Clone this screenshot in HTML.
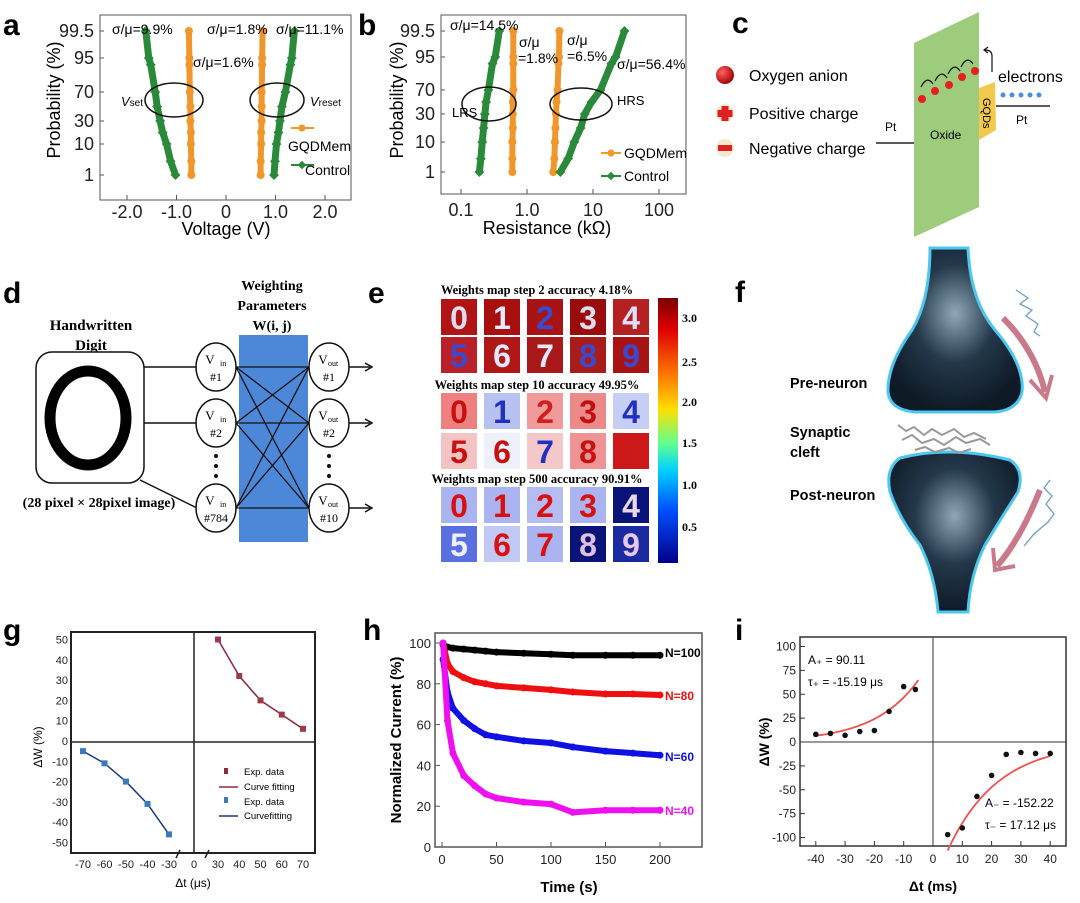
<!DOCTYPE html>
<html><head><meta charset="utf-8">
<style>
html,body{margin:0;padding:0;background:#fff;}
svg{display:block;font-family:"Liberation Sans",sans-serif;}
.ser{font-family:"Liberation Serif",serif;font-weight:bold;}
</style></head>
<body>
<svg id="fig" width="1080" height="903" viewBox="0 0 1080 903" xmlns="http://www.w3.org/2000/svg">
<defs>
<linearGradient id="jet" x1="0" y1="0" x2="0" y2="1">
<stop offset="0" stop-color="#7a0000"/><stop offset="0.12" stop-color="#e00000"/><stop offset="0.3" stop-color="#ff8000"/><stop offset="0.42" stop-color="#ffe000"/><stop offset="0.55" stop-color="#60ff90"/><stop offset="0.65" stop-color="#00d0ff"/><stop offset="0.8" stop-color="#0050ff"/><stop offset="1" stop-color="#00008a"/>
</linearGradient>
<radialGradient id="neur" cx="0.5" cy="0.4" r="0.6"><stop offset="0" stop-color="#8fa8b8"/><stop offset="0.5" stop-color="#23384a"/><stop offset="1" stop-color="#0e1a26"/></radialGradient>
<radialGradient id="ball" cx="0.35" cy="0.35" r="0.7"><stop offset="0" stop-color="#ff6060"/><stop offset="1" stop-color="#a00000"/></radialGradient>
</defs>

<!-- Panel a -->
<g>
<text x="3" y="35" font-size="30" font-weight="bold">a</text>
<rect x="100" y="15" width="251" height="185" fill="none" stroke="#555" stroke-width="1"/>
<g id="aTicks" font-size="18" fill="#222"></g>
<text transform="translate(60,100) rotate(-90)" text-anchor="middle" font-size="18">Probability (%)</text>
<text x="226" y="235" text-anchor="middle" font-size="18">Voltage (V)</text>
<g id="aMarks"></g>
<ellipse cx="174" cy="100" rx="29" ry="17" fill="none" stroke="#111" stroke-width="1.5"/>
<ellipse cx="277" cy="100" rx="27" ry="17" fill="none" stroke="#111" stroke-width="1.5"/>
<text x="121" y="106" font-size="13" font-style="italic">V<tspan font-size="10" font-style="normal">set</tspan></text>
<text x="310" y="106" font-size="13" font-style="italic">V<tspan font-size="10" font-style="normal">reset</tspan></text>
<text x="112" y="34" font-size="14">σ/μ=9.9%</text>
<text x="207" y="34" font-size="14">σ/μ=1.8%</text>
<text x="276" y="34" font-size="14">σ/μ=11.1%</text>
<text x="193" y="67" font-size="14">σ/μ=1.6%</text>
<g>
<line x1="291" y1="128" x2="314" y2="128" stroke="#f0962a" stroke-width="2"/><circle cx="302" cy="128" r="3.5" fill="#f0962a"/>
<text x="288" y="151" font-size="14">GQDMem</text>
<line x1="291" y1="165" x2="314" y2="165" stroke="#2a8a3a" stroke-width="2"/><rect x="299" y="162" width="6" height="6" fill="#2a8a3a" transform="rotate(45 302 165)"/>
<text x="305" y="175" font-size="14">Control</text>
</g>
</g>

<!-- Panel b -->
<g>
<text x="358" y="35" font-size="30" font-weight="bold">b</text>
<rect x="441" y="15" width="245" height="179" fill="none" stroke="#555" stroke-width="1"/>
<g id="bTicks" font-size="18" fill="#222"></g>
<text transform="translate(403,100) rotate(-90)" text-anchor="middle" font-size="18">Probability (%)</text>
<text x="547" y="234" text-anchor="middle" font-size="18">Resistance (kΩ)</text>
<g id="bMarks"></g>
<ellipse cx="489" cy="104" rx="27" ry="17" fill="none" stroke="#111" stroke-width="1.5"/>
<ellipse cx="581" cy="104" rx="31" ry="16" fill="none" stroke="#111" stroke-width="1.5"/>
<text x="452" y="117" font-size="13">LRS</text>
<text x="617" y="105" font-size="13">HRS</text>
<text x="450" y="30" font-size="14">σ/μ=14.5%</text>
<text x="519" y="47" font-size="14"><tspan x="519">σ/μ</tspan><tspan x="518" dy="16">=1.8%</tspan></text>
<text x="567" y="45" font-size="14"><tspan x="567">σ/μ</tspan><tspan x="567" dy="16">=6.5%</tspan></text>
<text x="617" y="69" font-size="14">σ/μ=56.4%</text>
<g>
<line x1="601" y1="153" x2="621" y2="153" stroke="#f0962a" stroke-width="2"/><circle cx="611" cy="153" r="3.5" fill="#f0962a"/>
<text x="624" y="158" font-size="14">GQDMem</text>
<line x1="601" y1="176" x2="621" y2="176" stroke="#2a8a3a" stroke-width="2"/><rect x="608" y="173" width="6" height="6" fill="#2a8a3a" transform="rotate(45 611 176)"/>
<text x="624" y="181" font-size="14">Control</text>
</g>
</g>

<!-- Panel c -->
<g>
<text x="732" y="33" font-size="30" font-weight="bold">c</text>
<circle cx="725" cy="75" r="9" fill="url(#ball)"/>
<text x="749" y="81" font-size="16">Oxygen anion</text>
<circle cx="725" cy="113" r="9" fill="#f5ead0"/>
<path d="M721.5 106h7v4h4v7h-4v4h-7v-4h-4v-7h4z" fill="#e02020"/>
<text x="749" y="119" font-size="16">Positive charge</text>
<circle cx="725" cy="148" r="9" fill="#f5ead0"/>
<rect x="718" y="145" width="14" height="6" fill="#e02020"/>
<text x="749" y="154" font-size="16">Negative charge</text>
<polygon points="914,43 979,12 979,207 914,237" fill="#9ccc7c"/>
<polygon points="979,88 995,82 996,130 979,140" fill="#f2c94c"/>
<text transform="translate(983,98) rotate(90)" font-size="11">GQDs</text>
<line x1="876" y1="143" x2="914" y2="143" stroke="#222" stroke-width="1.5"/>
<line x1="996" y1="106" x2="1050" y2="106" stroke="#222" stroke-width="1.5"/>
<text x="885" y="131" font-size="12">Pt</text>
<text x="1016" y="124" font-size="12">Pt</text>
<text x="930" y="139" font-size="12">Oxide</text>
<g fill="#e52020">
<circle cx="922" cy="99" r="4"/><circle cx="935" cy="91" r="4"/><circle cx="949" cy="85" r="4"/><circle cx="962" cy="77" r="4"/><circle cx="975" cy="71" r="4"/>
</g>
<g fill="none" stroke="#111" stroke-width="1.2">
<path d="M933 84 Q927 75 921 87"/><path d="M947 78 Q941 69 935 81"/><path d="M960 71 Q954 62 948 74"/><path d="M973 64 Q967 55 961 67"/>
<path d="M992 72 L992 56 Q992 50 985 50"/><path d="M988 47 L984 50 L988 53"/>
</g>
<g fill="#4a8fe0">
<circle cx="1003" cy="95" r="2.5"/><circle cx="1012" cy="95" r="2.5"/><circle cx="1021" cy="95" r="2.5"/><circle cx="1030" cy="95" r="2.5"/><circle cx="1039" cy="95" r="2.5"/>
</g>
<text x="998" y="82" font-size="16">electrons</text>
</g>

<!-- Panel d -->
<g>
<text x="3" y="303" font-size="30" font-weight="bold">d</text>
<text x="91" y="330" text-anchor="middle" font-size="15" class="ser">Handwritten</text>
<text x="91" y="350" text-anchor="middle" font-size="15" class="ser">Digit</text>
<rect x="36" y="352" width="108" height="131" rx="16" fill="#fff" stroke="#111" stroke-width="1.5"/>
<ellipse cx="88" cy="418" rx="38" ry="47" fill="none" stroke="#000" stroke-width="11"/>
<text x="99" y="507" text-anchor="middle" font-size="14" class="ser">(28 pixel × 28pixel image)</text>
<text x="272" y="290" text-anchor="middle" font-size="14" class="ser">Weighting</text>
<text x="272" y="310" text-anchor="middle" font-size="14" class="ser">Parameters</text>
<text x="272" y="330" text-anchor="middle" font-size="14" class="ser">W(i, j)</text>
<rect x="239" y="335" width="69" height="207" fill="#4d88d8"/>
<g id="dNet"></g>
</g>

<!-- Panel e -->
<g>
<text x="368" y="303" font-size="30" font-weight="bold">e</text>
<text x="537" y="294" text-anchor="middle" font-size="12.5" class="ser">Weights map step 2 accuracy 4.18%</text>
<text x="537" y="389" text-anchor="middle" font-size="12.5" class="ser">Weights map step 10 accuracy 49.95%</text>
<text x="537" y="483" text-anchor="middle" font-size="12.5" class="ser">Weights map step 500 accuracy 90.91%</text>
<g id="eTiles"></g>
<rect x="658" y="298" width="20" height="265" fill="url(#jet)"/>
<g font-size="12" class="ser">
<text x="682" y="322">3.0</text><text x="682" y="366">2.5</text><text x="682" y="406">2.0</text><text x="682" y="447">1.5</text><text x="682" y="489">1.0</text><text x="682" y="531">0.5</text>
</g>
</g>

<!-- Panel f -->
<g>
<text x="735" y="302" font-size="30" font-weight="bold">f</text>
<path d="M930 248 L968 248 Q970 300 995 330 Q1025 365 1022 392 Q1018 410 995 412 L915 412 Q890 410 888 392 Q887 365 912 330 Q930 300 930 248Z" fill="url(#neur)" stroke="#4cc8f0" stroke-width="3"/>
<path d="M900 458 Q950 445 1010 460 Q1025 470 1018 492 Q1000 520 985 545 Q970 575 968 612 L938 612 Q935 575 920 545 Q900 520 890 492 Q885 468 900 458Z" fill="url(#neur)" stroke="#4cc8f0" stroke-width="3"/>
<g fill="none" stroke="#999" stroke-width="2">
<path d="M898 425 l8 6 l8 -4 l10 8 l8 -6 l10 6 l12 -6 l10 8 l10 -4 l12 6"/>
<path d="M902 440 l10 -5 l10 8 l12 -4 l10 6 l12 -8 l10 6 l14 -4 l10 6"/>
<path d="M915 450 l10 -3 l10 5 l14 -4 l10 5 l12 -4"/>
</g>
<path d="M1003 318 Q1035 350 1045 392" fill="none" stroke="#c87a8a" stroke-width="6"/>
<path d="M1030 380 L1046 398 L1052 375" fill="none" stroke="#c87a8a" stroke-width="4"/>
<path d="M1040 490 Q1020 540 997 566" fill="none" stroke="#c87a8a" stroke-width="6"/>
<path d="M993 548 L995 570 L1015 566" fill="none" stroke="#c87a8a" stroke-width="4"/>
<path d="M1016 290 l12 8 l-8 6 l12 6 l-6 6 l12 8 l-4 8 l6 4" fill="none" stroke="#6a9ec8" stroke-width="1.3"/>
<path d="M1050 480 l-6 8 l8 8 l-6 8 l8 10 l-6 8 l-14 12 l-10 12" fill="none" stroke="#6a9ec8" stroke-width="1.3"/>
<text x="790" y="388" font-size="14.5" font-weight="bold">Pre-neuron</text>
<text x="790" y="437" font-size="14.5" font-weight="bold">Synaptic</text>
<text x="790" y="457" font-size="14.5" font-weight="bold">cleft</text>
<text x="790" y="500" font-size="14.5" font-weight="bold">Post-neuron</text>
</g>

<!-- Panel g -->
<g>
<text x="3" y="640" font-size="30" font-weight="bold">g</text>
<rect x="71" y="632" width="244" height="221" fill="none" stroke="#222" stroke-width="2"/>
<line x1="194" y1="632" x2="194" y2="853" stroke="#222" stroke-width="1.5"/>
<line x1="71" y1="742" x2="315" y2="742" stroke="#222" stroke-width="1.5"/>
<g id="gTicks" font-size="11" fill="#222"></g>
<g id="gMarks"></g>
<text x="193" y="887" text-anchor="middle" font-size="12">Δt (μs)</text>
<text transform="translate(42,747) rotate(-90)" text-anchor="middle" font-size="12">ΔW (%)</text>
<g font-size="9.5">
<rect x="224" y="768" width="4" height="6" fill="#8a2a3a"/><text x="244" y="775">Exp. data</text>
<line x1="219" y1="787" x2="238" y2="787" stroke="#8a2a3a" stroke-width="1.5"/><text x="244" y="790">Curve fitting</text>
<rect x="224" y="797" width="4" height="6" fill="#3a7ab8"/><text x="244" y="805">Exp. data</text>
<line x1="219" y1="816" x2="238" y2="816" stroke="#1a3a7a" stroke-width="1.5"/><text x="244" y="819">Curvefitting</text>
</g>
</g>

<!-- Panel h -->
<g>
<text x="363" y="640" font-size="30" font-weight="bold">h</text>
<rect x="435" y="633" width="267" height="214" fill="none" stroke="#555" stroke-width="1.5"/>
<g id="hTicks" font-size="13" fill="#222"></g>
<g id="hMarks"></g>
<text x="569" y="892" text-anchor="middle" font-size="15" font-weight="bold">Time (s)</text>
<text transform="translate(401,740) rotate(-90)" text-anchor="middle" font-size="15" font-weight="bold">Normalized Current (%)</text>
</g>

<!-- Panel i -->
<g>
<text x="735" y="640" font-size="30" font-weight="bold">i</text>
<rect x="800" y="637" width="266" height="209" fill="none" stroke="#333" stroke-width="1.5"/>
<line x1="933" y1="637" x2="933" y2="846" stroke="#333" stroke-width="1"/>
<line x1="800" y1="742" x2="1066" y2="742" stroke="#333" stroke-width="1"/>
<g id="iTicks" font-size="12" fill="#222"></g>
<g id="iMarks"></g>
<text x="933" y="891" text-anchor="middle" font-size="14" font-weight="bold">Δt (ms)</text>
<text transform="translate(769,742) rotate(-90)" text-anchor="middle" font-size="14" font-weight="bold">ΔW (%)</text>
<text x="808" y="664" font-size="12">A₊ = 90.11</text>
<text x="808" y="686" font-size="12">τ₊ = -15.19 μs</text>
<text x="985" y="807" font-size="12">A₋ = -152.22</text>
<text x="985" y="829" font-size="12">τ₋ = 17.12 μs</text>
</g>
</svg>

<script>
// ===== Panel a data =====
const probTicks = [1, 10, 30, 70, 95, 99.5];
const aProbs = [1, 5, 10, 20, 30, 50, 70, 90, 95, 99.5];
const aSetControl = [-1.02, -1.12, -1.2, -1.28, -1.33, -1.39, -1.43, -1.52, -1.56, -1.62];
const aSetGqd = [-0.7, -0.7, -0.71, -0.71, -0.72, -0.72, -0.73, -0.74, -0.74, -0.75];
const aResetGqd = [0.7, 0.7, 0.71, 0.71, 0.72, 0.72, 0.72, 0.73, 0.73, 0.74];
const aResetControl = [0.97, 0.99, 1.02, 1.06, 1.09, 1.13, 1.2, 1.3, 1.33, 1.38];
const aXTicks = [-2.0, -1.0, 0, 1.0, 2.0];
const aXLabels = ["-2.0", "-1.0", "0", "1.0", "2.0"];
// ===== Panel b data =====
const bProbs = [1, 5, 10, 20, 30, 50, 70, 90, 95, 99.5];
const bLrsControl = [0.19, 0.2, 0.21, 0.22, 0.23, 0.24, 0.26, 0.3, 0.33, 0.38];
const bLrsGqd = [0.6, 0.6, 0.6, 0.61, 0.61, 0.61, 0.62, 0.62, 0.62, 0.62];
const bHrsGqd = [2.5, 2.6, 2.65, 2.7, 2.75, 2.8, 2.9, 3.0, 3.05, 3.1];
const bHrsControl = [3.2, 4.2, 5.2, 6.5, 7.5, 9.5, 13, 19, 22, 30];
const bXTicks = [0.1, 1, 10, 100];
const bXLabels = ["0.1", "1.0", "10", "100"];
// ===== Panel g data =====
const gPosT = [30, 40, 50, 60, 70];
const gPosW = [50, 32, 20, 13, 6];
const gNegT = [-70, -60, -50, -40, -30];
const gNegW = [-5, -11, -20, -31, -46];
const gYTicks = [50, 40, 30, 20, 10, 0, -10, -20, -30, -40, -50];
const gXTicks = [-70, -60, -50, -40, -30, 0, 30, 40, 50, 60, 70];
// ===== Panel h data =====
const hTimes = [1, 5, 10, 20, 30, 40, 50, 75, 100, 120, 150, 175, 200];
const hN100 = [99, 98, 97.5, 97, 96.5, 96, 95.5, 95, 94.5, 94, 94, 94, 94];
const hN80 = [100, 90, 86, 83, 81, 80, 79, 78, 77, 76, 75, 75, 74.5];
const hN60 = [92, 76, 68, 62, 58, 55, 54, 52, 51, 49, 47, 46, 45];
const hN40 = [100, 62, 46, 35, 30, 26, 24, 22, 21, 17, 18, 18, 18];
const hXTicks = [0, 50, 100, 150, 200];
const hYTicks = [0, 20, 40, 60, 80, 100];
const hSeriesNames = ["N=100", "N=80", "N=60", "N=40"];
// ===== Panel i data =====
const iNegT = [-40, -35, -30, -25, -20, -15, -10, -6];
const iNegW = [8, 9, 7, 11, 12, 32, 58, 55];
const iPosT = [5, 10, 15, 20, 25, 30, 35, 40];
const iPosW = [-97, -90, -57, -35, -13, -11, -12, -12];
const iFitPlus = [90.11, -15.19];
const iFitMinus = [-152.22, 17.12];
const iXTicks = [-40, -30, -20, -10, 0, 10, 20, 30, 40];
const iYTicks = [100, 75, 50, 25, 0, -25, -50, -75, -100];

const NS = "http://www.w3.org/2000/svg";
function mk(parent, tag, attrs, txt) {
  const el = document.createElementNS(NS, tag);
  for (const k in attrs) el.setAttribute(k, attrs[k]);
  if (txt !== undefined) el.textContent = txt;
  parent.appendChild(el);
  return el;
}
function $(id) { return document.getElementById(id); }

// probability axis (piecewise between tick positions)
function probAxis(pos) {
  return function (p) {
    for (let i = 0; i < probTicks.length - 1; i++) {
      if (p <= probTicks[i + 1]) {
        const f = (p - probTicks[i]) / (probTicks[i + 1] - probTicks[i]);
        return pos[i] + f * (pos[i + 1] - pos[i]);
      }
    }
    return pos[pos.length - 1];
  };
}
const yA = probAxis([175, 144, 121, 92, 58, 31]);
const yB = probAxis([172, 142, 114, 90, 57, 31]);
const xA = v => 226 + v * 49.5;
const xB = r => 527 + 66 * Math.log10(r);

function probTickLabels(g, yf, xr, xl) {
  probTicks.forEach(p => {
    const y = yf(p);
    const l = mk(g, "line", { x1: xl, y1: y, x2: xl + 4, y2: y, stroke: "#555" });
    
    
    const t = mk(g, "text", { x: xr, y: y + 6, "text-anchor": "end" }, String(p));
    
    
  });
}
function drawProbSeries(g, xs, ps, xf, yf, color, diamond, name) {
  const pts = xs.map((v, i) => xf(v) + "," + yf(ps[i])).join(" ");
  const pl = mk(g, "polyline", { points: pts, fill: "none", stroke: color, "stroke-width": diamond ? 7 : 6, "stroke-linejoin": "round", "stroke-linecap": "round" });
  
  
  xs.forEach((v, i) => {
    const cx = xf(v), cy = yf(ps[i]);
    let m;
    if (diamond) m = mk(g, "rect", { x: cx - 3.5, y: cy - 3.5, width: 7, height: 7, fill: color, transform: "rotate(45 " + cx + " " + cy + ")" });
    else m = mk(g, "circle", { cx: cx, cy: cy, r: 4, fill: color });
    
    
  });
}
const ORANGE = "#f0962a", GREEN = "#2a8a3a";

// Panel a
(function () {
  const gt = $("aTicks");
  probTickLabels(gt, yA, 94, 100);
  aXTicks.forEach((v, i) => {
    const x = xA(v);
    const l = mk(gt, "line", { x1: x, y1: 200, x2: x, y2: 195, stroke: "#555" });
    
    
    const t = mk(gt, "text", { x: x, y: 218, "text-anchor": "middle" }, aXLabels[i]);
    
    
  });
  const g = $("aMarks");
  drawProbSeries(g, aSetGqd, aProbs, xA, yA, ORANGE, false, "series-set-gqdmem");
  drawProbSeries(g, aResetGqd, aProbs, xA, yA, ORANGE, false, "series-reset-gqdmem");
  drawProbSeries(g, aSetControl, aProbs, xA, yA, GREEN, true, "series-set-control");
  drawProbSeries(g, aResetControl, aProbs, xA, yA, GREEN, true, "series-reset-control");
})();

// Panel b
(function () {
  const gt = $("bTicks");
  probTickLabels(gt, yB, 435, 441);
  bXTicks.forEach((v, i) => {
    const x = xB(v);
    const l = mk(gt, "line", { x1: x, y1: 194, x2: x, y2: 189, stroke: "#555" });
    
    
    const t = mk(gt, "text", { x: x, y: 216, "text-anchor": "middle" }, bXLabels[i]);
    
    
  });
  const g = $("bMarks");
  drawProbSeries(g, bLrsGqd, bProbs, xB, yB, ORANGE, false, "series-lrs-gqdmem");
  drawProbSeries(g, bHrsGqd, bProbs, xB, yB, ORANGE, false, "series-hrs-gqdmem");
  drawProbSeries(g, bLrsControl, bProbs, xB, yB, GREEN, true, "series-lrs-control");
  drawProbSeries(g, bHrsControl, bProbs, xB, yB, GREEN, true, "series-hrs-control");
})();

// Panel d network
(function () {
  const g = $("dNet");
  const ys = [367, 423, 508];
  const inLab = ["#1", "#2", "#784"], outLab = ["#1", "#2", "#10"];
  mk(g, "line", { x1: 144, y1: 367, x2: 196, y2: 367, stroke: "#111", "stroke-width": 1.5 });
  mk(g, "line", { x1: 144, y1: 423, x2: 196, y2: 423, stroke: "#111", "stroke-width": 1.5 });
  mk(g, "line", { x1: 140, y1: 480, x2: 197, y2: 508, stroke: "#111", "stroke-width": 1.5 });
  ys.forEach(a => ys.forEach(b => {
    mk(g, "line", { x1: 236, y1: a, x2: 309, y2: b, stroke: "#111", "stroke-width": 1.3 });
  }));
  ys.forEach((y, i) => {
    const n1 = mk(g, "ellipse", { cx: 216, cy: y, rx: 20, ry: 24, fill: "#fff", stroke: "#111", "stroke-width": 1.5 });
    
    
    mk(g, "text", { x: 210, y: y - 3, "font-size": 13, "text-anchor": "middle", "font-family": "Liberation Serif" }, "V");
    mk(g, "text", { x: 220, y: y - 1, "font-size": 8, "font-family": "Liberation Serif" }, "in");
    mk(g, "text", { x: 216, y: y + 14, "font-size": 12, "text-anchor": "middle", "font-family": "Liberation Serif" }, inLab[i]);
    const n2 = mk(g, "ellipse", { cx: 329, cy: y, rx: 20, ry: 24, fill: "#fff", stroke: "#111", "stroke-width": 1.5 });
    
    
    mk(g, "text", { x: 323, y: y - 3, "font-size": 13, "text-anchor": "middle", "font-family": "Liberation Serif" }, "V");
    mk(g, "text", { x: 328, y: y - 1, "font-size": 8, "font-family": "Liberation Serif" }, "out");
    mk(g, "text", { x: 329, y: y + 14, "font-size": 12, "text-anchor": "middle", "font-family": "Liberation Serif" }, outLab[i]);
    mk(g, "line", { x1: 349, y1: y, x2: 370, y2: y, stroke: "#111", "stroke-width": 1.5 });
    mk(g, "path", { d: "M365 " + (y - 4) + " L372 " + y + " L365 " + (y + 4), fill: "none", stroke: "#111", "stroke-width": 1.5 });
  });
  [456, 466, 476].forEach(y => { mk(g, "circle", { cx: 216, cy: y, r: 2, fill: "#111" }); mk(g, "circle", { cx: 329, cy: y, r: 2, fill: "#111" }); });
})();

// Panel e tiles
(function () {
  const g = $("eTiles");
  const rowsY = [299, 337, 393, 433, 487, 526];
  const bgs = [
    ["#b01414", "#a81010", "#a81414", "#9a0c0c", "#b52020"],
    ["#b8202a", "#b01818", "#a81818", "#a81c1c", "#a81414"],
    ["#ee8080", "#b8c2f0", "#f09a9a", "#ec8a8a", "#c6cef4"],
    ["#f4c4c4", "#eef0fa", "#f4c8c8", "#ee9494", "#cc1818"],
    ["#aab4f0", "#aab4f0", "#b4bcf2", "#aab4f0", "#0a1478"],
    ["#5a70e0", "#c0c8f4", "#aab4f0", "#0a1478", "#1a2aa0"]];
  const fg = [
    ["#dde", "#e8e8ff", "#3a4ad0", "#dde", "#e0e0ff"],
    ["#3a4ad0", "#e8e8ff", "#e8e8ff", "#3a4ad0", "#3a4ad0"],
    ["#c81010", "#2030c0", "#d02020", "#c01010", "#2030c0"],
    ["#c81010", "#c81010", "#2030c0", "#c81010", "#cc1818"],
    ["#d81010", "#d81010", "#d81010", "#d81010", "#e8d8e8"],
    ["#eeeeff", "#d81010", "#d81010", "#e0c0e0", "#e8c8e8"]];
  const digits = ["0", "1", "2", "3", "4", "5", "6", "7", "8", "9"];
  rowsY.forEach((y, r) => {
    for (let c = 0; c < 5; c++) {
      const x = 441 + c * 43;
      const t = mk(g, "rect", { x: x, y: y, width: 36, height: 36, fill: bgs[r][c] });
      
      
      mk(g, "text", { x: x + 18, y: y + 30, "font-size": 32, "font-weight": "bold", "text-anchor": "middle", fill: fg[r][c], "font-family": "Liberation Sans" }, digits[(r % 2) * 5 + c]);
    }
  });
})();

// Panel g
(function () {
  const xG = t => t < 0 ? 169 + (t + 30) * 2.15 : 218 + (t - 30) * 2.125;
  const yG = v => 741 - v * 2.03;
  const gt = $("gTicks");
  gYTicks.forEach(v => {
    const t = mk(gt, "text", { x: 68, y: yG(v) + 4, "text-anchor": "end" }, String(v));
    
    
  });
  gXTicks.forEach(v => {
    const t = mk(gt, "text", { x: v === 0 ? 194 : xG(v), y: 868, "text-anchor": "middle" }, String(v));
    
    
  });
  mk(gt, "path", { d: "M176 858 l4 -8 M205 858 l4 -8", stroke: "#222", "stroke-width": 1.5 });
  const g = $("gMarks");
  function ser(ts, ws, line, mark, name) {
    const pl = mk(g, "polyline", { points: ts.map((t, i) => xG(t) + "," + yG(ws[i])).join(" "), fill: "none", stroke: line, "stroke-width": 1.5 });
    
    
    ts.forEach((t, i) => {
      const m = mk(g, "rect", { x: xG(t) - 3, y: yG(ws[i]) - 3, width: 6, height: 6, fill: mark });
      
      
    });
  }
  ser(gPosT, gPosW, "#8a2a3a", "#9a3a4a", "series-positive");
  ser(gNegT, gNegW, "#1a3a7a", "#3a7ab8", "series-negative");
})();

// Panel h
(function () {
  const xH = t => 442 + t * 1.09;
  const yH = v => 847 - v * 2.04;
  const gt = $("hTicks");
  hXTicks.forEach(v => {
    mk(gt, "line", { x1: xH(v), y1: 847, x2: xH(v), y2: 842, stroke: "#555" });
    const t = mk(gt, "text", { x: xH(v), y: 864, "text-anchor": "middle" }, String(v));
    
    
  });
  hYTicks.forEach(v => {
    mk(gt, "line", { x1: 435, y1: yH(v), x2: 440, y2: yH(v), stroke: "#555" });
    const t = mk(gt, "text", { x: 431, y: yH(v) + 5, "text-anchor": "end" }, String(v));
    
    
  });
  const g = $("hMarks");
  const series = [hN100, hN80, hN60, hN40];
  const colors = ["#000", "#ee1010", "#1010e0", "#ee10ee"];
  const labelY = [657, 700, 761, 815];
  series.forEach((s, k) => {
    const pl = mk(g, "polyline", { points: hTimes.map((t, i) => xH(t) + "," + yH(s[i])).join(" "), fill: "none", stroke: colors[k], "stroke-width": 6, "stroke-linejoin": "round", "stroke-linecap": "round" });
    
    
    hTimes.forEach((t, i) => {
      const c = mk(g, "circle", { cx: xH(t), cy: yH(s[i]), r: 3.5, fill: colors[k] });
      
      
    });
    const lab = mk(g, "text", { x: 665, y: labelY[k], "font-size": 12, "font-weight": "bold", fill: colors[k] }, hSeriesNames[k]);
    
    
  });
})();

// Panel i
(function () {
  const xI = t => 933 + t * 2.93;
  const yI = v => 742 - v * 0.955;
  const gt = $("iTicks");
  iXTicks.forEach(v => {
    mk(gt, "line", { x1: xI(v), y1: 846, x2: xI(v), y2: 841, stroke: "#333" });
    const t = mk(gt, "text", { x: xI(v), y: 863, "text-anchor": "middle" }, String(v));
    
    
  });
  iYTicks.forEach(v => {
    mk(gt, "line", { x1: 800, y1: yI(v), x2: 805, y2: yI(v), stroke: "#333" });
    const t = mk(gt, "text", { x: 796, y: yI(v) + 4, "text-anchor": "end" }, String(v));
    
    
  });
  const g = $("iMarks");
  const fitP = [], fitM = [];
  for (let t = -40; t <= -5; t += 1) fitP.push(xI(t) + "," + yI(iFitPlus[0] * Math.exp(t / -iFitPlus[1])));
  for (let t = 5; t <= 40; t += 1) fitM.push(xI(t) + "," + yI(iFitMinus[0] * Math.exp(-t / iFitMinus[1])));
  const f1 = mk(g, "polyline", { points: fitP.join(" "), fill: "none", stroke: "#f05050", "stroke-width": 1.8 });
  
  
  const f2 = mk(g, "polyline", { points: fitM.join(" "), fill: "none", stroke: "#f05050", "stroke-width": 1.8 });
  
  
  iNegT.forEach((t, i) => {
    const c = mk(g, "circle", { cx: xI(t), cy: yI(iNegW[i]), r: 2.8, fill: "#111" });
    
    
  });
  iPosT.forEach((t, i) => {
    const c = mk(g, "circle", { cx: xI(t), cy: yI(iPosW[i]), r: 2.8, fill: "#111" });
    
    
  });
})();
</script>
</body></html>
